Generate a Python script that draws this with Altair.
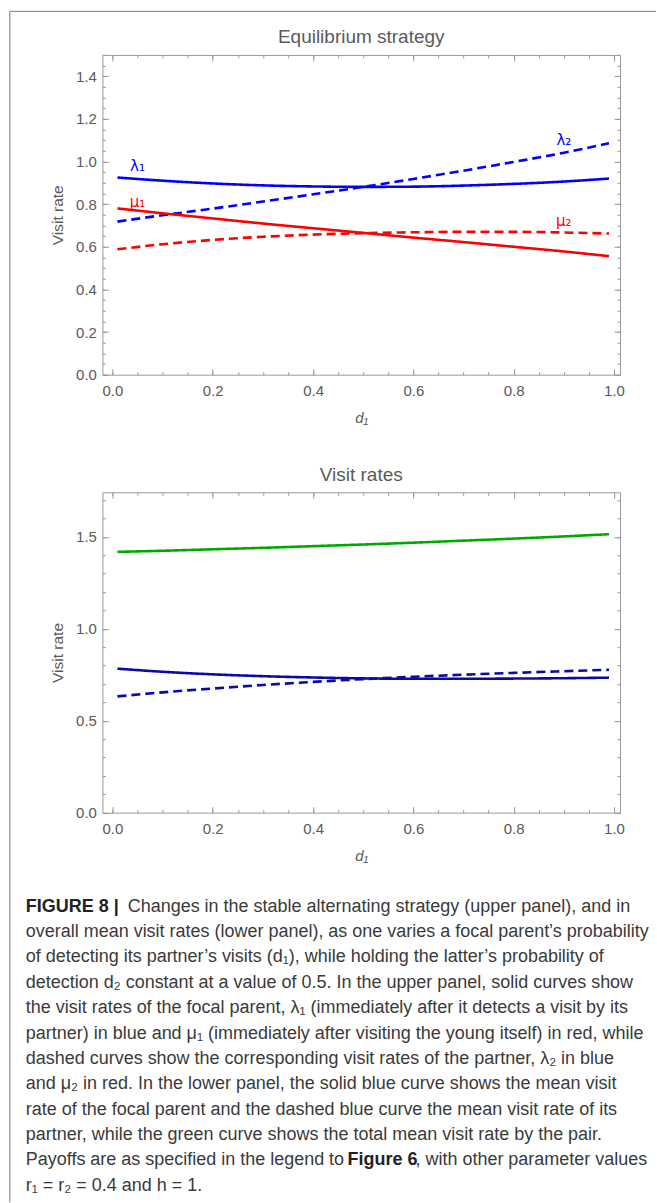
import altair as alt
import pandas as pd

# ---------------- data ----------------
d1 = [0.01, 0.1, 0.2, 0.3, 0.4, 0.5, 0.6, 0.7, 0.8, 0.9, 0.99]

# upper panel: equilibrium strategy
lambda1 = [0.925, 0.910, 0.897, 0.888, 0.883, 0.881, 0.882, 0.887, 0.895, 0.906, 0.920]
lambda2 = [0.718, 0.748, 0.779, 0.812, 0.846, 0.881, 0.918, 0.957, 0.998, 1.041, 1.086]
mu1 = [0.780, 0.757, 0.733, 0.709, 0.687, 0.665, 0.643, 0.622, 0.600, 0.578, 0.556]
mu2 = [0.588, 0.612, 0.632, 0.647, 0.657, 0.664, 0.668, 0.670, 0.670, 0.667, 0.662]

# lower panel: visit rates
mean_focal = [0.783, 0.766, 0.752, 0.742, 0.735, 0.730, 0.728, 0.728, 0.729, 0.731, 0.734]
mean_partner = [0.632, 0.654, 0.675, 0.694, 0.711, 0.726, 0.739, 0.750, 0.760, 0.769, 0.777]
total_rate = [1.418, 1.424, 1.432, 1.440, 1.449, 1.458, 1.468, 1.479, 1.490, 1.502, 1.514]

# curve labels of the upper panel
label_text = ["λ₁", "μ₁", "λ₂", "μ₂"]
label_x = [0.05, 0.05, 0.90, 0.90]
label_y = [0.980, 0.812, 1.100, 0.722]
label_color = ["#0000ff", "#ff0000", "#0000ff", "#ff0000"]

# ticks
x_major = [0.0, 0.2, 0.4, 0.6, 0.8, 1.0]
x_minor = [0.0, 0.05, 0.1, 0.15, 0.2, 0.25, 0.3, 0.35, 0.4, 0.45, 0.5,
           0.55, 0.6, 0.65, 0.7, 0.75, 0.8, 0.85, 0.9, 0.95, 1.0]
y1_major = [0.0, 0.2, 0.4, 0.6, 0.8, 1.0, 1.2, 1.4]
y1_minor = [0.0, 0.05, 0.1, 0.15, 0.2, 0.25, 0.3, 0.35, 0.4, 0.45, 0.5, 0.55, 0.6, 0.65,
            0.7, 0.75, 0.8, 0.85, 0.9, 0.95, 1.0, 1.05, 1.1, 1.15, 1.2, 1.25, 1.3,
            1.35, 1.4, 1.45, 1.5]
y2_major = [0.0, 0.5, 1.0, 1.5]
y2_minor = [0.0, 0.1, 0.2, 0.3, 0.4, 0.5, 0.6, 0.7, 0.8, 0.9, 1.0, 1.1, 1.2, 1.3,
            1.4, 1.5, 1.6, 1.7]

caption_bold_start = "FIGURE 8 |"
caption_line0_rest = "Changes in the stable alternating strategy (upper panel), and in"
caption_body = [
    "overall mean visit rates (lower panel), as one varies a focal parent’s probability",
    "of detecting its partner’s visits (d₁), while holding the latter’s probability of",
    "detection d₂ constant at a value of 0.5. In the upper panel, solid curves show",
    "the visit rates of the focal parent, λ₁ (immediately after it detects a visit by its",
    "partner) in blue and μ₁ (immediately after visiting the young itself) in red, while",
    "dashed curves show the corresponding visit rates of the partner, λ₂ in blue",
    "and μ₂ in red. In the lower panel, the solid blue curve shows the mean visit",
    "rate of the focal parent and the dashed blue curve the mean visit rate of its",
    "partner, while the green curve shows the total mean visit rate by the pair.",
    "Payoffs are as specified in the legend to",
    "r₁ = r₂ = 0.4 and h = 1.",
]
caption_bold_mid = "Figure 6"
caption_line10_rest = ", with other parameter values"

# ---------------- layout constants ----------------
W = 518
H = 320
H2 = 320.6
GAP = 117.7
XDOM = [-0.02, 1.012]
Y1DOM = [0, 1.5]
Y2DOM = [0, 1.742]
FONT = "Liberation Sans"
GRAY = "#5a5a5a"
FRAME = "#9a9a9a"

top_df = pd.DataFrame({
    "d1": d1 * 4,
    "value": lambda1 + lambda2 + mu1 + mu2,
    "series": ["lambda1"] * 11 + ["lambda2"] * 11 + ["mu1"] * 11 + ["mu2"] * 11,
})
bot_df = pd.DataFrame({
    "d1": d1 * 3,
    "value": mean_focal + mean_partner + total_rate,
    "series": ["focal"] * 11 + ["partner"] * 11 + ["total"] * 11,
})
lab_df = pd.DataFrame({"t": label_text, "x": label_x, "y": label_y, "c": label_color})


def tick_axis(orient, values, size, offset):
    return alt.Axis(orient=orient, values=values, tickSize=size, offset=offset,
                    labels=False, domain=False, grid=False, title=None,
                    tickColor=FRAME, tickWidth=1)


def panel(df, ydom, ymaj, ymin, series_order, colors, dashes, widths, h):
    xs = alt.Scale(domain=XDOM, nice=False, zero=False)
    ys = alt.Scale(domain=ydom, nice=False, zero=False)
    lines = alt.Chart(df).mark_line(interpolate="monotone").encode(
        x=alt.X("d1:Q", scale=xs, axis=alt.Axis(
            orient="bottom", values=x_major, format=".1f", ticks=False, tickSize=0,
            domain=False, grid=False, labelPadding=9, labelFont=FONT, labelFontSize=15,
            labelColor=GRAY, title="d₁", titleFont=FONT, titleFontSize=15,
            titleFontStyle="italic", titleFontWeight="normal", titleColor=GRAY,
            titlePadding=12)),
        y=alt.Y("value:Q", scale=ys, axis=alt.Axis(
            orient="left", values=ymaj, format=".1f", ticks=False, tickSize=0,
            domain=False, grid=False, labelPadding=6, labelFont=FONT, labelFontSize=15,
            labelColor=GRAY, title="Visit rate", titleFont=FONT, titleFontSize=15.5,
            titleFontWeight="normal", titleColor=GRAY, titlePadding=10)),
        color=alt.Color("series:N", scale=alt.Scale(domain=series_order, range=colors),
                        legend=None),
        strokeDash=alt.StrokeDash("series:N", scale=alt.Scale(domain=series_order, range=dashes),
                                  legend=None),
        strokeWidth=alt.StrokeWidth("series:N", scale=alt.Scale(domain=series_order, range=widths),
                                    legend=None),
    )
    ghost = alt.Chart(df).mark_point(opacity=0, size=1)
    layers = [lines]
    # inward ticks on the four sides of the frame
    for xo, yo, vx, vy, s in [
        ("top", "right", x_major, ymaj, 6),
        ("top", "right", x_minor, ymin, 3),
        ("bottom", "left", x_major, ymaj, 6),
        ("bottom", "left", x_minor, ymin, 3),
    ]:
        layers.append(ghost.encode(
            x=alt.X("d1:Q", scale=xs, axis=tick_axis(xo, vx, s, -h)),
            y=alt.Y("value:Q", scale=ys, axis=tick_axis(yo, vy, s, -W)),
        ))
    return layers


top_layers = panel(top_df, Y1DOM, y1_major, y1_minor,
                   ["lambda1", "lambda2", "mu1", "mu2"],
                   ["#0000ff", "#0000ff", "#ff0000", "#ff0000"],
                   [[1, 0], [9, 5], [1, 0], [9, 5]],
                   [2.6, 2.6, 2.6, 2.6], H)

labels = alt.Chart(lab_df).mark_text(font="DejaVu Sans", fontSize=15, align="center",
                                     baseline="middle").encode(
    x=alt.X("x:Q", scale=alt.Scale(domain=XDOM, nice=False, zero=False), axis=None),
    y=alt.Y("y:Q", scale=alt.Scale(domain=Y1DOM, nice=False, zero=False), axis=None),
    text="t:N",
    color=alt.Color("c:N", scale=None),
)

TITLE_SIZE = 19
top = alt.layer(*top_layers, labels).resolve_axis(
    x="independent", y="independent").properties(
    width=W, height=H, view=alt.ViewBackground(stroke=FRAME, strokeWidth=1),
    title=alt.TitleParams("Equilibrium strategy", font=FONT, fontSize=TITLE_SIZE,
                          fontWeight="normal", color=GRAY, offset=7))

bot_layers = panel(bot_df, Y2DOM, y2_major, y2_minor,
                   ["focal", "partner", "total"],
                   ["#0a0aa8", "#0a0aa8", "#00a800"],
                   [[1, 0], [9, 5], [1, 0]],
                   [2.6, 2.6, 2.6], H2)
bottom = alt.layer(*bot_layers).resolve_axis(
    x="independent", y="independent").properties(
    width=W, height=H2, view=alt.ViewBackground(stroke=FRAME, strokeWidth=1),
    title=alt.TitleParams("Visit rates", font=FONT, fontSize=TITLE_SIZE,
                          fontWeight="normal", color=GRAY, offset=7))

# ---------------- caption ----------------
CAP_SIZE = 18
CAP_X = -76.7
cy = alt.Scale(domain=[0, 11], range=[-24, -24 + 11 * 25.4])
body_df = pd.DataFrame({"line": list(range(1, 12)), "t": caption_body})
cap_body = alt.Chart(body_df).mark_text(font=FONT, fontSize=CAP_SIZE, align="left",
                                        baseline="middle", color="#3a3a3a").encode(
    x=alt.value(CAP_X), y=alt.Y("line:Q", scale=cy, axis=None), text="t:N")
cap_b0 = alt.Chart(pd.DataFrame({"line": [0], "t": [caption_bold_start]})).mark_text(
    font=FONT, fontSize=CAP_SIZE, fontWeight="bold", align="left", baseline="middle",
    color="#222222").encode(x=alt.value(CAP_X), y=alt.Y("line:Q", scale=cy, axis=None),
                            text="t:N")
cap_r0 = alt.Chart(pd.DataFrame({"line": [0], "t": [caption_line0_rest]})).mark_text(
    font=FONT, fontSize=CAP_SIZE, align="left", baseline="middle", color="#3a3a3a",
    dx=102).encode(x=alt.value(CAP_X), y=alt.Y("line:Q", scale=cy, axis=None), text="t:N")
cap_b10 = alt.Chart(pd.DataFrame({"line": [10], "t": [caption_bold_mid]})).mark_text(
    font=FONT, fontSize=CAP_SIZE, fontWeight="bold", align="left", baseline="middle",
    color="#222222", dx=322).encode(x=alt.value(CAP_X),
                                    y=alt.Y("line:Q", scale=cy, axis=None), text="t:N")
cap_r10 = alt.Chart(pd.DataFrame({"line": [10], "t": [caption_line10_rest]})).mark_text(
    font=FONT, fontSize=CAP_SIZE, align="left", baseline="middle", color="#3a3a3a",
    dx=390).encode(x=alt.value(CAP_X), y=alt.Y("line:Q", scale=cy, axis=None), text="t:N")

# thin figure border (left and top edges), drawn relative to the caption panel
CAP_TOP = 54 + H + GAP + H2 + GAP
one = pd.DataFrame({"k": [0]})
border_v = alt.Chart(one).mark_rule(color="#7a7a7a", strokeWidth=1).encode(
    x=alt.value(-92.7), y=alt.value(10 - CAP_TOP), y2=alt.value(1202 - CAP_TOP))
border_h = alt.Chart(one).mark_rule(color="#7a7a7a", strokeWidth=1).encode(
    x=alt.value(-92.7), x2=alt.value(554), y=alt.value(10 - CAP_TOP))

caption = alt.layer(cap_body, cap_b0, cap_r0, cap_b10, cap_r10, border_v, border_h).properties(
    width=W, height=260, view=alt.ViewBackground(stroke="transparent"))

chart = alt.vconcat(top, bottom, caption, spacing=GAP, bounds="flush").resolve_scale(
    color="independent", strokeDash="independent", strokeWidth="independent"
).properties(
    padding={"left": 8.5, "top": 9.5, "right": 0, "bottom": 0},
).configure_view(stroke="transparent").configure(background="white")

chart.save("out.html", embed_options={"renderer": "svg", "actions": False})
